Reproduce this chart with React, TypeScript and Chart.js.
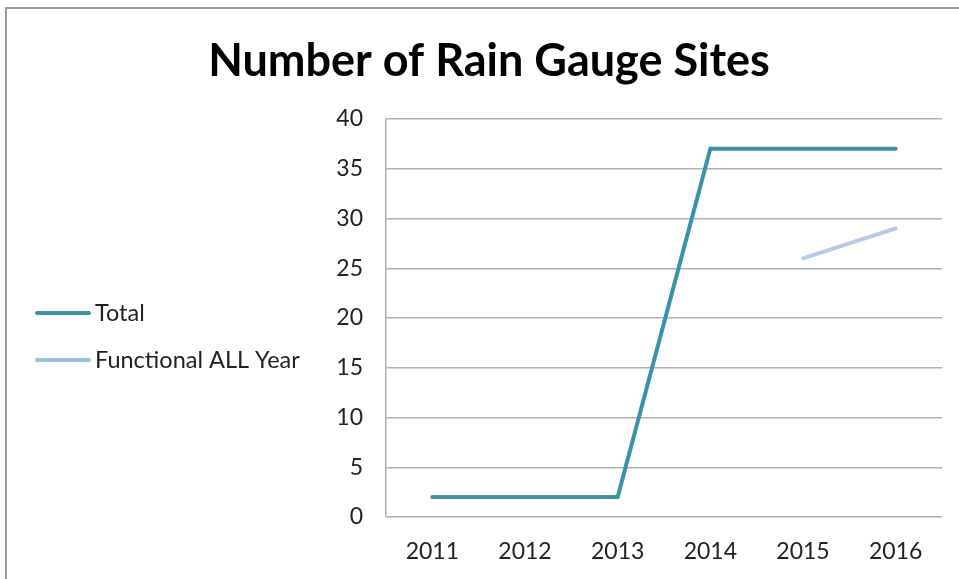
import React, { useEffect, useRef } from "react";
import { Chart, registerables } from "chart.js";

Chart.register(...registerables);

const years = ["2011", "2012", "2013", "2014", "2015", "2016"];
const totalSites = [2, 2, 2, 37, 37, 37];
const functionalAllYear = [null, null, null, null, 26, 29];
const seriesNames = ["Total", "Functional ALL Year"];
const seriesColors = ["#3A92A9", "#B5CAE6"];
const legendColors = ["#3A92A9", "#93C4D7"];
const chartTitle = "Number of Rain Gauge Sites";

const FONT = "Lato, 'Open Sans', sans-serif";

const sideLegend = {
  id: "sideLegend",
  afterDraw(chart: any) {
    const { ctx, chartArea } = chart;
    const cy = (chartArea.top + chartArea.bottom) / 2;
    const rows = [cy - 5, cy + 42];
    ctx.save();
    chart.data.datasets.forEach((ds: any, i: number) => {
      const y = rows[i];
      ctx.strokeStyle = legendColors[i];
      ctx.lineWidth = 4;
      ctx.lineCap = "round";
      ctx.beginPath();
      ctx.moveTo(37, y);
      ctx.lineTo(89, y);
      ctx.stroke();
      ctx.fillStyle = "#222222";
      ctx.font = `23.5px ${FONT}`;
      ctx.textAlign = "left";
      ctx.textBaseline = "middle";
      ctx.fillText(ds.label, 95, y);
    });
    ctx.restore();
  },
};

export default function App() {
  const ref = useRef<HTMLCanvasElement | null>(null);

  useEffect(() => {
    document.body.style.margin = "0";
    const ctx = ref.current!.getContext("2d")!;
    const chart = new Chart(ctx, {
      type: "line",
      data: {
        labels: years,
        datasets: [
          {
            label: seriesNames[0],
            data: totalSites,
            borderColor: seriesColors[0],
            backgroundColor: seriesColors[0],
            borderWidth: 4,
            borderCapStyle: "round",
            borderJoinStyle: "miter",
            pointRadius: 0,
            pointHoverRadius: 0,
            tension: 0,
          },
          {
            label: seriesNames[1],
            data: functionalAllYear,
            borderColor: seriesColors[1],
            backgroundColor: seriesColors[1],
            borderWidth: 4,
            borderCapStyle: "round",
            pointRadius: 0,
            pointHoverRadius: 0,
            tension: 0,
            spanGaps: false,
          },
        ],
      },
      options: {
        responsive: false,
        animation: false,
        layout: { padding: { top: 10, left: 36, right: 17, bottom: 12 } },
        plugins: {
          title: {
            display: true,
            text: chartTitle,
            color: "#000000",
            font: { family: FONT, size: 45, weight: "bold" },
            padding: { top: 24, bottom: 31 },
          },
          legend: { display: false },
          tooltip: { enabled: false },
        },
        scales: {
          x: {
            offset: true,
            grid: { display: false, drawTicks: false },
            border: { display: false },
            afterFit: (s: any) => {
              s.height = 50;
            },
            ticks: {
              color: "#222222",
              font: { family: FONT, size: 23 },
              padding: 21,
              maxRotation: 0,
            },
          },
          y: {
            min: 0,
            max: 40,
            afterFit: (s: any) => {
              s.width = 350;
            },
            grid: { color: "#B0B0B0", lineWidth: 1.5, drawTicks: false },
            border: { display: true, color: "#B0B0B0", width: 1.5 },
            ticks: {
              stepSize: 5,
              color: "#222222",
              font: { family: FONT, size: 23 },
              padding: 23,
            },
          },
        },
      },
      plugins: [sideLegend],
    });
    return () => chart.destroy();
  }, []);

  return (
    <div style={{ position: "relative", width: 959, height: 579, overflow: "hidden", background: "#fff" }}>
      <canvas ref={ref} width={959} height={579} style={{ position: "absolute", left: 0, top: 0 }} />
      <div
        style={{
          position: "absolute",
          left: 5,
          top: 7,
          width: 1200,
          height: 1200,
          border: "2px solid #9A9A9A",
          pointerEvents: "none",
        }}
      />
    </div>
  );
}
